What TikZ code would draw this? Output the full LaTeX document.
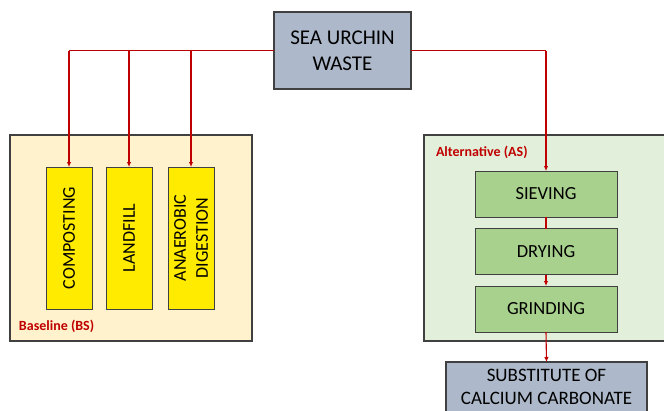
\documentclass[tikz,border=0pt]{standalone}
\usepackage{fontspec}
\setmainfont{Carlito}
\usetikzlibrary{arrows.meta}
\definecolor{lineRed}{HTML}{C00000}
\definecolor{greyBlue}{HTML}{ADB9CA}
\definecolor{paleYellow}{HTML}{FFF2CC}
\definecolor{brightYellow}{HTML}{FFEB00}
\definecolor{paleGreen}{HTML}{E2EFDA}
\definecolor{midGreen}{HTML}{A9D18E}
\definecolor{edgeGrey}{HTML}{404040}
\tikzset{
  every node/.style={inner sep=0pt, outer sep=0pt},
  mainbox/.style={draw=edgeGrey, line width=1.1pt, fill=greyBlue, align=center, font=\fontsize{19}{23}\selectfont},
  groupbox/.style={draw=edgeGrey, line width=1.1pt},
  bsbox/.style={draw=edgeGrey, line width=1pt, fill=brightYellow, rotate=90, minimum width=142pt, minimum height=46pt, align=center, font=\fontsize{18}{22}\selectfont},
  asbox/.style={draw=edgeGrey, line width=1pt, fill=midGreen, minimum width=142pt, minimum height=46pt, font=\fontsize{18.5}{22}\selectfont},
  grouplabel/.style={anchor=west, text=lineRed, font=\bfseries\fontsize{14}{16}\selectfont},
  conn/.style={draw=lineRed, line width=1.1pt},
  arr/.style={conn, -{Latex[length=5pt,width=4.5pt]}}
}
\begin{document}
\begin{tikzpicture}[x=1pt, y=-1pt]
\useasboundingbox (0,0) rectangle (664,410);
\clip (0,0) rectangle (664,410);
% group boxes
\draw[groupbox, fill=paleYellow] (10,135) rectangle (252,341);
\draw[groupbox, fill=paleGreen] (424,135) rectangle (670,341);
\node[grouplabel] (bslabel) at (19,326) {Baseline (BS)};
\node[grouplabel] (aslabel) at (436,152) {Alternative (AS)};
% main nodes
\node[mainbox, minimum width=137pt, minimum height=77pt, font=\fontsize{21}{26}\selectfont] (waste) at (342.5,50.5) {SEA URCHIN\\WASTE};
\node[bsbox] (comp) at (69,238) {COMPOSTING};
\node[bsbox] (land) at (129,238) {LANDFILL};
\node[bsbox] (anae) at (191,238) {ANAEROBIC\\DIGESTION};
\node[asbox] (siev) at (546,194) {SIEVING};
\node[asbox] (dry) at (546,251.5) {DRYING};
\node[asbox] (grind) at (546,309) {GRINDING};
\node[mainbox, minimum width=201pt, minimum height=50pt] (subst) at (546.5,387) {SUBSTITUTE OF\\CALCIUM CARBONATE};
% connectors
\coordinate (jc) at (comp.east |- waste.west);
\coordinate (jl) at (land.east |- waste.west);
\coordinate (ja) at (anae.east |- waste.west);
\coordinate (js) at (siev.north |- waste.east);
\draw[conn] (waste.west) -- (jc);
\draw[arr] (jc) -- (comp.east);
\draw[arr] (jl) -- (land.east);
\draw[arr] (ja) -- (anae.east);
\draw[conn] (waste.east) -- (js);
\draw[arr] (js) -- (siev.north);
\draw[conn] (siev.south) -- (dry.north);
\draw[arr] (dry.south) -- (grind.north);
\draw[arr] (grind.south) -- (subst.north);
\end{tikzpicture}
\end{document}
